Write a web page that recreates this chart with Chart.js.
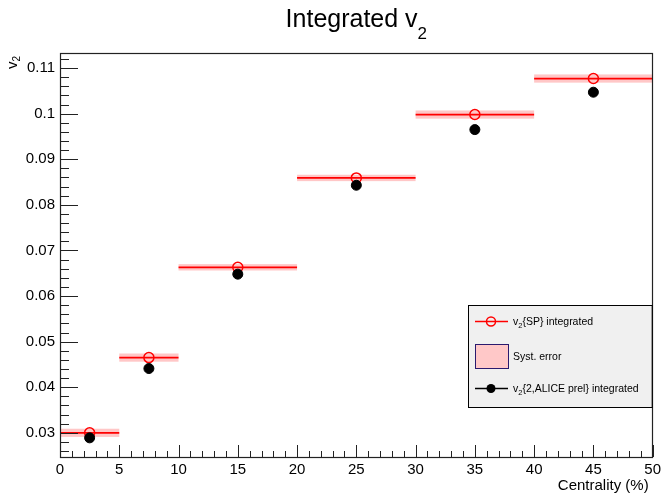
<!DOCTYPE html>
<html>
<head>
<meta charset="utf-8">
<script src="https://cdn.jsdelivr.net/npm/chart.js@4.4.0/dist/chart.umd.min.js"></script>
<style>
  html, body { margin: 0; padding: 0; background: #fff; }
</style>
</head>
<body>
<canvas id="v2Chart" width="665" height="499"></canvas>
<script>
// ## INTEGRATED v2 vs CENTRALITY ##

const binLow = [0, 5, 10, 20, 30, 40];
const binHigh = [5, 10, 20, 30, 40, 50];
const centrality = [2.5, 7.5, 15, 25, 35, 45];
const v2SP = [0.03, 0.0465, 0.0663, 0.0859, 0.0998, 0.1077];
const v2SPSyst = [0.0009, 0.0009, 0.0007, 0.0007, 0.0009, 0.0009];
const v2Alice = [0.0289, 0.0441, 0.0648, 0.0843, 0.0965, 0.1047];
const xTicks = [0, 5, 10, 15, 20, 25, 30, 35, 40, 45, 50];
const yTicks = [0.03, 0.04, 0.05, 0.06, 0.07, 0.08, 0.09, 0.1, 0.11];

const FONT = "'Liberation Sans', Arial, Helvetica, sans-serif";
const SYST_FILL = "rgba(255, 0, 0, 0.22)";

// bin lines for the SP points, with a gap after each bin
const spLine = [];
binLow.forEach((lo, i) => {
  spLine.push({ x: lo, y: v2SP[i] });
  spLine.push({ x: binHigh[i], y: v2SP[i] });
  spLine.push({ x: binHigh[i], y: null });
});

// draws text pieces one after the other, used for subscripts
function drawParts(ctx, parts, x, y) {
  parts.forEach(([text, size, dy]) => {
    ctx.font = size + "px " + FONT;
    ctx.fillText(text, x, y + dy);
    x += ctx.measureText(text).width;
  });
}

function partsWidth(ctx, parts) {
  let w = 0;
  parts.forEach(([text, size]) => {
    ctx.font = size + "px " + FONT;
    w += ctx.measureText(text).width;
  });
  return w;
}

const rootStyle = {
  id: "rootStyle",
  beforeDatasetsDraw(chart) {
    const ctx = chart.ctx;
    const xs = chart.scales.x;
    const ys = chart.scales.y;
    ctx.save();
    ctx.fillStyle = SYST_FILL;
    binLow.forEach((lo, i) => {
      const x0 = xs.getPixelForValue(lo);
      const x1 = xs.getPixelForValue(binHigh[i]);
      const y0 = ys.getPixelForValue(v2SP[i] + v2SPSyst[i]);
      const y1 = ys.getPixelForValue(v2SP[i] - v2SPSyst[i]);
      ctx.fillRect(x0, y0, x1 - x0, y1 - y0);
    });
    ctx.restore();
  },
  afterDraw(chart) {
    const ctx = chart.ctx;
    const xs = chart.scales.x;
    const ys = chart.scales.y;
    const a = chart.chartArea;
    ctx.save();

    // frame
    ctx.strokeStyle = "#222";
    ctx.lineWidth = 1.2;
    ctx.strokeRect(Math.round(a.left) + 0.5, Math.round(a.top) + 0.5,
      Math.round(a.right - a.left) - 1, Math.round(a.bottom - a.top));

    // ticks inside the frame
    ctx.lineWidth = 1;
    ctx.beginPath();
    for (let k = 0; k <= 50; k++) {
      const px = Math.round(xs.getPixelForValue(k)) + 0.5;
      const len = k % 5 === 0 ? 12 : 6;
      ctx.moveTo(px, a.bottom);
      ctx.lineTo(px, a.bottom - len);
    }
    for (let k = 13; k <= 56; k++) {
      const py = Math.round(ys.getPixelForValue(k * 0.002)) + 0.5;
      const len = k % 5 === 0 ? 18 : 9;
      ctx.moveTo(a.left, py);
      ctx.lineTo(a.left + len, py);
    }
    ctx.stroke();

    // title
    ctx.fillStyle = "#000";
    ctx.textBaseline = "alphabetic";
    ctx.textAlign = "left";
    const title = [["Integrated v", 25, 0], ["2", 17, 12]];
    const tw = partsWidth(ctx, title);
    drawParts(ctx, title, (a.left + a.right) / 2 - tw / 2, 27);

    // axis titles
    ctx.font = "15px " + FONT;
    ctx.textAlign = "right";
    ctx.fillText("Centrality (%)", a.right - 4, 490);
    ctx.textAlign = "left";
    ctx.save();
    ctx.translate(17, 69);
    ctx.rotate(-Math.PI / 2);
    drawParts(ctx, [["v", 15, 0], ["2", 10, 3]], 0, 0);
    ctx.restore();

    // legend
    const lx = 468, ly = 305, lw = a.right - 469, lh = 102;
    ctx.fillStyle = "#f0f0f0";
    ctx.fillRect(lx, ly, lw, lh);
    ctx.strokeStyle = "#000";
    ctx.strokeRect(lx + 0.5, ly + 0.5, lw, lh);

    const sx0 = 475, sx1 = 508, sc = 491, tx = 513;
    // SP entry
    ctx.strokeStyle = "#ff0000";
    ctx.lineWidth = 1.5;
    ctx.beginPath();
    ctx.moveTo(sx0, 321.5);
    ctx.lineTo(sx1, 321.5);
    ctx.stroke();
    ctx.beginPath();
    ctx.arc(sc, 321.5, 4.5, 0, Math.PI * 2);
    ctx.stroke();
    // syst entry
    ctx.fillStyle = "#ffc8c8";
    ctx.fillRect(sx0, 344, sx1 - sx0, 24);
    ctx.strokeStyle = "#2a1a6e";
    ctx.lineWidth = 1;
    ctx.strokeRect(sx0 + 0.5, 344.5, sx1 - sx0, 24);
    // ALICE entry
    ctx.strokeStyle = "#000";
    ctx.lineWidth = 1.5;
    ctx.beginPath();
    ctx.moveTo(sx0, 388.5);
    ctx.lineTo(sx1, 388.5);
    ctx.stroke();
    ctx.fillStyle = "#000";
    ctx.beginPath();
    ctx.arc(sc, 388.5, 4.5, 0, Math.PI * 2);
    ctx.fill();

    ctx.fillStyle = "#000";
    drawParts(ctx, [["v", 10.5, 0], ["2", 7.5, 2.5], ["{SP} integrated", 10.5, 0]], tx, 325);
    drawParts(ctx, [["Syst. error", 10.5, 0]], tx, 360);
    drawParts(ctx, [["v", 10.5, 0], ["2", 7.5, 2.5], ["{2,ALICE prel} integrated", 10.5, 0]], tx, 392);

    ctx.restore();
  },
};

const ctx = document.getElementById("v2Chart").getContext("2d");

window.v2Chart = new Chart(ctx, {
  type: "scatter",
  data: {
    datasets: [
      {
        label: "v2{SP} bins",
        type: "line",
        data: spLine,
        borderColor: "#ff0000",
        borderWidth: 1.8,
        pointRadius: 0,
        spanGaps: false,
        fill: false,
        order: 3,
      },
      {
        label: "v2{SP} integrated",
        data: centrality.map((c, i) => ({ x: c, y: v2SP[i] })),
        pointStyle: "circle",
        pointRadius: 5,
        borderColor: "#ff0000",
        borderWidth: 1.5,
        backgroundColor: "rgba(0,0,0,0)",
        order: 2,
      },
      {
        label: "v2{2,ALICE prel} integrated",
        data: centrality.map((c, i) => ({ x: c, y: v2Alice[i] })),
        pointStyle: "circle",
        pointRadius: 5,
        borderColor: "#000",
        borderWidth: 1,
        backgroundColor: "#000",
        order: 1,
      },
    ],
  },
  options: {
    responsive: false,
    animation: false,
    layout: {
      padding: { top: 53, right: 10, left: 0, bottom: 0 },
    },
    plugins: {
      legend: { display: false },
      tooltip: { enabled: false },
      title: { display: false },
    },
    scales: {
      x: {
        type: "linear",
        min: 0,
        max: 50,
        afterBuildTicks: (s) => {
          s.ticks = xTicks.map((v) => ({ value: v }));
        },
        afterFit: (s) => {
          s.height = 42;
        },
        grid: { display: false, drawTicks: false },
        border: { display: false },
        ticks: {
          color: "#000",
          padding: 4,
          maxRotation: 0,
          font: { family: FONT, size: 15 },
        },
      },
      y: {
        type: "linear",
        min: 0.0247,
        max: 0.1133,
        afterBuildTicks: (s) => {
          s.ticks = yTicks.map((v) => ({ value: v }));
        },
        afterFit: (s) => {
          s.width = 60;
        },
        grid: { display: false, drawTicks: false },
        border: { display: false },
        ticks: {
          color: "#000",
          padding: 5,
          font: { family: FONT, size: 15 },
          callback: (v) => String(+v.toFixed(2)),
        },
      },
    },
  },
  plugins: [rootStyle],
});
</script>
</body>
</html>
